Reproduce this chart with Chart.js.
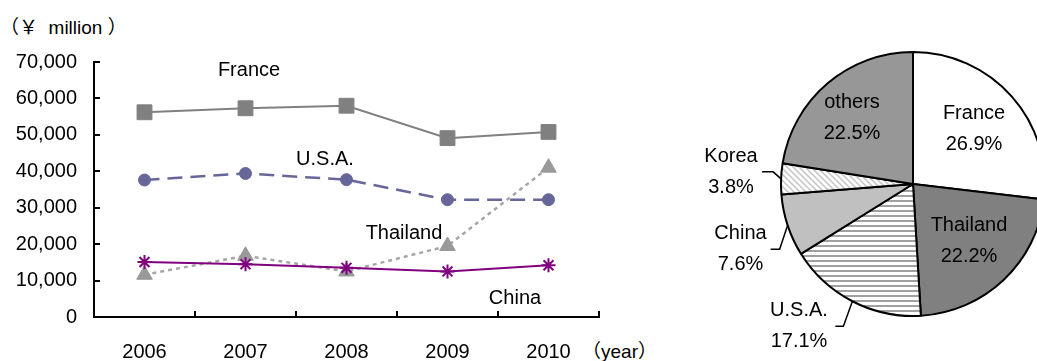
<!DOCTYPE html>
<html>
<head>
<meta charset="utf-8">
<script src="https://cdn.jsdelivr.net/npm/chart.js@4/dist/chart.umd.min.js"></script>
<style>
  html, body { margin: 0; padding: 0; background: #fff; width: 1037px; height: 361px; overflow: hidden; }
  body { position: relative; font-family: "Liberation Sans", Arial, "Noto Sans CJK JP", sans-serif; color: #000; }
  .unit { position: absolute; white-space: pre; font-size: 19px; line-height: 22px; }
  canvas { position: absolute; }
</style>
</head>
<body>
<div class="unit" style="left:0px; top:17px;">（￥  million ）</div>
<div class="unit" style="left:582px; top:341px;">（year）</div>
<canvas id="trend" width="680" height="361" style="left:0; top:0;"></canvas>
<canvas id="share" width="466" height="368" style="left:680px; top:0;"></canvas>
<script>
// ---- data: imports by country, ¥ million ----
const years = ['2006', '2007', '2008', '2009', '2010'];
const france   = [56200, 57300, 58000, 49100, 50800];
const usa      = [37600, 39400, 37700, 32200, 32200];
const thailand = [11600, 16800, 12500, 19500, 41000];
const china    = [15100, 14500, 13500, 12500, 14200];
const valueTicks = [0, 10000, 20000, 30000, 40000, 50000, 60000, 70000];

// ---- data: share of 2010 imports, % ----
const shareLabels = ['France', 'Thailand', 'U.S.A.', 'China', 'Korea', 'others'];
const shares      = [26.9, 22.2, 17.1, 7.6, 3.8, 22.5];

const FONT = '"Liberation Sans", Arial, sans-serif';

// tick marks pointing into the plot area
const innerTicks = {
  id: 'innerTicks',
  afterDraw(chart) {
    const { ctx, chartArea: a, scales: { x, y } } = chart;
    ctx.save();
    ctx.strokeStyle = '#000';
    ctx.lineWidth = 2;
    ctx.beginPath();
    y.ticks.forEach((t, i) => {
      const py = Math.round(y.getPixelForTick(i));
      ctx.moveTo(a.left, py);
      ctx.lineTo(a.left + 6, py);
    });
    const n = x.ticks.length;
    for (let i = 0; i <= n; i++) {
      const px = Math.round(a.left + (a.right - a.left) * i / n);
      ctx.moveTo(px, a.bottom);
      ctx.lineTo(px, a.bottom - 6);
    }
    ctx.stroke();
    ctx.restore();
  }
};

// series names written next to their lines
const seriesNames = {
  id: 'seriesNames',
  afterDatasetsDraw(chart, args, opts) {
    const { ctx } = chart;
    ctx.save();
    ctx.fillStyle = '#000';
    ctx.font = '20px ' + FONT;
    ctx.textAlign = 'center';
    ctx.textBaseline = 'middle';
    chart.data.datasets.forEach((ds, i) => {
      const p = opts.at[i];
      ctx.fillText(ds.label, p[0], p[1]);
    });
    ctx.restore();
  }
};

new Chart(document.getElementById('trend'), {
  type: 'line',
  data: {
    labels: years,
    datasets: [
      { label: 'France', data: france, order: 0,
        borderColor: '#808080', borderWidth: 2,
        pointStyle: 'rect', pointRadius: 10.5, pointBorderWidth: 1,
        pointBackgroundColor: '#808080', pointBorderColor: '#808080' },
      { label: 'U.S.A.', data: usa, order: 1,
        borderColor: '#666699', borderWidth: 2.5, borderDash: [15, 8],
        pointStyle: 'circle', pointRadius: 6, pointBorderWidth: 1,
        pointBackgroundColor: '#666699', pointBorderColor: '#666699' },
      { label: 'Thailand', data: thailand, order: 3,
        borderColor: '#a6a6a6', borderWidth: 2.5, borderDash: [4, 4],
        pointStyle: 'triangle', pointRadius: 9, pointBorderWidth: 1,
        pointBackgroundColor: '#999999', pointBorderColor: '#999999' },
      { label: 'China', data: china, order: 2,
        borderColor: '#800080', borderWidth: 2,
        pointStyle: 'star', pointRadius: 7, pointBorderWidth: 2,
        pointBackgroundColor: '#800080', pointBorderColor: '#800080' }
    ]
  },
  options: {
    responsive: false,
    animation: false,
    events: [],
    layout: { padding: { left: 0, right: 81, top: 62, bottom: 0 } },
    plugins: {
      legend: { display: false },
      tooltip: { enabled: false },
      seriesNames: { at: [[249, 70], [325, 159], [404, 233], [515, 298]] }
    },
    elements: { line: { tension: 0 } },
    scales: {
      x: {
        offset: true,
        grid: { display: false, offset: true, drawTicks: false },
        border: { color: '#000', width: 2 },
        ticks: { color: '#000', font: { size: 20, family: FONT }, padding: 23, maxRotation: 0 },
        afterFit(s) { s.height = 44; }
      },
      y: {
        min: valueTicks[0],
        max: valueTicks[valueTicks.length - 1],
        grid: { display: false, drawTicks: false },
        border: { color: '#000', width: 2 },
        afterBuildTicks(s) { s.ticks = valueTicks.map(v => ({ value: v })); },
        ticks: { color: '#000', font: { size: 20, family: FONT }, padding: 17,
                 callback: v => v.toLocaleString('en-US') },
        afterFit(s) { s.width = 94; }
      }
    }
  },
  plugins: [innerTicks, seriesNames]
});

// ---- fills for the pie ----
function stripes() {
  const c = document.createElement('canvas');
  c.width = 8; c.height = 5;
  const g = c.getContext('2d');
  g.fillStyle = '#fff'; g.fillRect(0, 0, 8, 5);
  g.fillStyle = '#a0a0a0'; g.fillRect(0, 0, 8, 2);
  return g.createPattern(c, 'repeat');
}
function hatch() {
  const c = document.createElement('canvas');
  c.width = 6; c.height = 6;
  const g = c.getContext('2d');
  g.fillStyle = '#fff'; g.fillRect(0, 0, 6, 6);
  g.strokeStyle = '#c4c4c4'; g.lineWidth = 1.5;
  g.beginPath();
  g.moveTo(-1, -1); g.lineTo(7, 7);
  g.moveTo(-4, 2); g.lineTo(4, 10);
  g.moveTo(2, -4); g.lineTo(10, 4);
  g.stroke();
  return g.createPattern(c, 'repeat');
}

// labels with percentages; some sit outside with a leader line
const sliceLabels = {
  id: 'sliceLabels',
  afterDatasetsDraw(chart, args, opts) {
    const { ctx } = chart;
    const arcs = chart.getDatasetMeta(0).data;
    const vals = chart.data.datasets[0].data;
    ctx.save();
    ctx.fillStyle = '#000';
    ctx.strokeStyle = '#000';
    ctx.lineWidth = 1.5;
    ctx.font = '20px ' + FONT;
    ctx.textAlign = 'center';
    ctx.textBaseline = 'middle';
    arcs.forEach((arc, i) => {
      const spec = opts.spec[i];
      const cx = arc.x, cy = arc.y;
      if (spec.leader) {
        const mid = (arc.startAngle + arc.endAngle) / 2;
        const ex = cx + Math.cos(mid) * arc.outerRadius;
        const ey = cy + Math.sin(mid) * arc.outerRadius;
        const bx = ex + spec.leader[0], by = ey + spec.leader[1];
        ctx.beginPath();
        ctx.moveTo(ex, ey);
        ctx.lineTo(bx, by);
        ctx.lineTo(bx + spec.leader[2], by);
        ctx.stroke();
      }
      const tx = cx + spec.text[0], ty = cy + spec.text[1];
      ctx.fillText(chart.data.labels[i], tx, ty - 15.5);
      ctx.fillText(vals[i].toFixed(1) + '%', tx, ty + 15.5);
    });
    ctx.restore();
  }
};

new Chart(document.getElementById('share'), {
  type: 'pie',
  data: {
    labels: shareLabels,
    datasets: [{
      data: shares,
      radius: 132,
      backgroundColor: ['#ffffff', '#808080', stripes(), '#c0c0c0', hatch(), '#979797'],
      borderColor: '#000',
      borderWidth: 2
    }]
  },
  options: {
    responsive: false,
    animation: false,
    events: [],
    layout: { padding: 0 },
    plugins: {
      legend: { display: false },
      tooltip: { enabled: false },
      sliceLabels: {
        spec: [
          { text: [61, -55] },
          { text: [56, 57] },
          { text: [-114, 142], leader: [-9, 25, -8] },
          { text: [-172.5, 65], leader: [-8, 24, -9] },
          { text: [-182, -12.5], leader: [-8, -7, -11] },
          { text: [-61, -66] }
        ]
      }
    }
  },
  plugins: [sliceLabels]
});
</script>
</body>
</html>
